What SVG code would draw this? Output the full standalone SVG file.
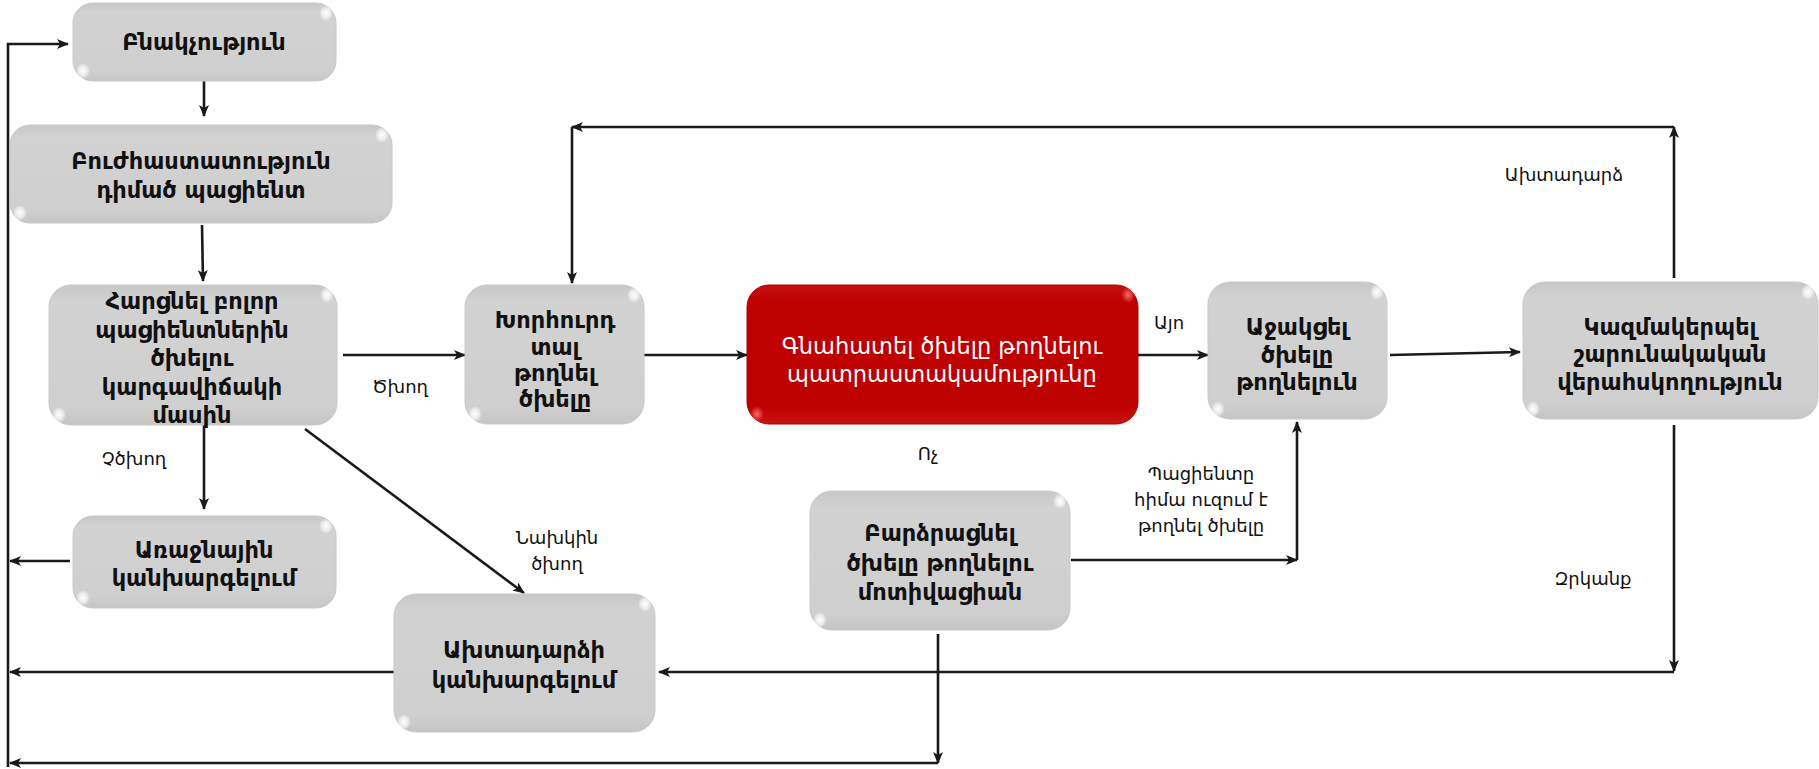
<svg xmlns="http://www.w3.org/2000/svg" width="1819" height="769" viewBox="0 0 1819 769">
<style>
.box{fill:url(#g);stroke:#c9c8c9;stroke-width:1}
.red{fill:url(#r);stroke:#b00000;stroke-width:1}
.hl{fill:url(#w)}
.hr{fill:url(#wr)}
.t{font-family:"DejaVu Sans",sans-serif;font-weight:bold;font-size:22.5px;fill:#111;text-anchor:middle;dominant-baseline:central}
.tw{font-family:"DejaVu Sans",sans-serif;font-size:22.5px;fill:#fff;text-anchor:middle;dominant-baseline:central}
.l{font-family:"DejaVu Sans",sans-serif;font-size:18px;fill:#111;text-anchor:middle;dominant-baseline:central}
.c{fill:none;stroke:#1a1a1a;stroke-width:2.6}
.a{marker-end:url(#ar)}
</style>
<defs>
<linearGradient id="g" x1="0" y1="0" x2="0" y2="1">
<stop offset="0" stop-color="#c8c7c8"/><stop offset="0.12" stop-color="#d3d2d3"/><stop offset="0.88" stop-color="#d0cfd0"/><stop offset="1" stop-color="#c6c5c6"/>
</linearGradient>
<linearGradient id="r" x1="0" y1="0" x2="0" y2="1">
<stop offset="0" stop-color="#c41010"/><stop offset="0.12" stop-color="#bf0000"/><stop offset="0.88" stop-color="#bd0000"/><stop offset="1" stop-color="#c81414"/>
</linearGradient>
<radialGradient id="w"><stop offset="0" stop-color="#fff"/><stop offset="0.6" stop-color="#fff" stop-opacity="0.6"/><stop offset="1" stop-color="#fff" stop-opacity="0"/></radialGradient>
<radialGradient id="wr"><stop offset="0" stop-color="#ff6a6a"/><stop offset="1" stop-color="#ff6a6a" stop-opacity="0"/></radialGradient>
<marker id="ar" markerUnits="userSpaceOnUse" markerWidth="12" markerHeight="10" refX="11" refY="5" orient="auto">
<path d="M0,0 L12,5 L0,10 L3,5 z" fill="#1a1a1a"/>
</marker>
</defs>

<g id="connectors">
<path class="c a" d="M204,81 L204,116"/>
<path class="c a" d="M202,225 L203,281"/>
<path class="c a" d="M204,425 L204,509"/>
<path class="c a" d="M70,561 L10,561"/>
<path class="c a" d="M8,767 L8,44 L68,44"/>
<path class="c a" d="M394,672 L10,672"/>
<path class="c a" d="M938,634 L938,763"/>
<path class="c a" d="M938,763 L10,763"/>
<path class="c a" d="M305,429 L524,593"/>
<path class="c a" d="M343,355 L465,355"/>
<path class="c a" d="M644,355 L747,355"/>
<path class="c a" d="M1138,355 L1208,355"/>
<path class="c a" d="M1390,355 L1520,352"/>
<path class="c a" d="M1071,560 L1297,560"/>
<path class="c a" d="M1297,560 L1297,422"/>
<path class="c a" d="M1674,278 L1674,127"/>
<path class="c a" d="M1674,127 L572,127"/>
<path class="c a" d="M572,127 L572,283"/>
<path class="c a" d="M1674,425 L1674,671"/>
<path class="c a" d="M1674,672 L659,672"/>
</g>

<g id="labels">
<text class="l" x="400" y="386">Ծխող</text>
<text class="l" x="134" y="458">Չծխող</text>
<text class="l" x="557" y="537">Նախկին</text>
<text class="l" x="557" y="563">ծխող</text>
<text class="l" x="1169" y="322">Այո</text>
<text class="l" x="928" y="453">Ոչ</text>
<text class="l" x="1201" y="473">Պացիենտը</text>
<text class="l" x="1201" y="499">հիմա ուզում է</text>
<text class="l" x="1201" y="525">թողնել ծխելը</text>
<text class="l" x="1564" y="174">Ախտադարձ</text>
<text class="l" x="1593" y="578">Զրկանք</text>
</g>

<g id="n1">
<rect class="box" x="73" y="3" width="263" height="78" rx="20"/>
<ellipse class="hl" cx="326" cy="13" rx="7" ry="8"/><ellipse class="hl" cx="83" cy="71" rx="7" ry="8"/>
<text class="t" x="204" y="42">Բնակչություն</text>
</g>
<g id="n2">
<rect class="box" x="10" y="125" width="382" height="98" rx="20"/>
<ellipse class="hl" cx="382" cy="135" rx="7" ry="8"/><ellipse class="hl" cx="20" cy="213" rx="7" ry="8"/>
<text class="t" x="201" y="161">Բուժհաստատություն</text>
<text class="t" x="201" y="190">դիմած պացիենտ</text>
</g>
<g id="n3">
<rect class="box" x="49" y="285" width="288" height="140" rx="22"/>
<ellipse class="hl" cx="327" cy="295" rx="7" ry="8"/><ellipse class="hl" cx="59" cy="415" rx="7" ry="8"/>
<text class="t" x="192" y="301">Հարցնել բոլոր</text>
<text class="t" x="192" y="330">պացիենտներին</text>
<text class="t" x="192" y="358">ծխելու</text>
<text class="t" x="192" y="387">կարգավիճակի</text>
<text class="t" x="192" y="415">մասին</text>
</g>
<g id="n4">
<rect class="box" x="73" y="516" width="263" height="92" rx="20"/>
<ellipse class="hl" cx="326" cy="526" rx="7" ry="8"/><ellipse class="hl" cx="83" cy="598" rx="7" ry="8"/>
<text class="t" x="204" y="550">Առաջնային</text>
<text class="t" x="204" y="578">կանխարգելում</text>
</g>
<g id="n5">
<rect class="box" x="394" y="594" width="261" height="138" rx="22"/>
<ellipse class="hl" cx="645" cy="604" rx="7" ry="8"/><ellipse class="hl" cx="404" cy="722" rx="7" ry="8"/>
<text class="t" x="524" y="650">Ախտադարձի</text>
<text class="t" x="524" y="680">կանխարգելում</text>
</g>
<g id="n6">
<rect class="box" x="465" y="285" width="179" height="139" rx="22"/>
<ellipse class="hl" cx="634" cy="295" rx="7" ry="8"/><ellipse class="hl" cx="475" cy="414" rx="7" ry="8"/>
<text class="t" x="555" y="320">Խորհուրդ</text>
<text class="t" x="555" y="347">տալ</text>
<text class="t" x="555" y="373">թողնել</text>
<text class="t" x="555" y="399">ծխելը</text>
</g>
<g id="n7">
<rect class="red" x="747" y="285" width="391" height="139" rx="22"/>
<ellipse class="hr" cx="1128" cy="295" rx="7" ry="8"/><ellipse class="hr" cx="757" cy="414" rx="7" ry="8"/>
<text class="tw" x="942" y="346">Գնահատել ծխելը թողնելու</text>
<text class="tw" x="942" y="374">պատրաստակամությունը</text>
</g>
<g id="n8">
<rect class="box" x="1208" y="282" width="179" height="137" rx="22"/>
<ellipse class="hl" cx="1377" cy="292" rx="7" ry="8"/><ellipse class="hl" cx="1218" cy="409" rx="7" ry="8"/>
<text class="t" x="1297" y="327">Աջակցել</text>
<text class="t" x="1297" y="355">ծխելը</text>
<text class="t" x="1297" y="382">թողնելուն</text>
</g>
<g id="n9">
<rect class="box" x="1523" y="282" width="295" height="137" rx="22"/>
<ellipse class="hl" cx="1808" cy="292" rx="7" ry="8"/><ellipse class="hl" cx="1533" cy="409" rx="7" ry="8"/>
<text class="t" x="1670" y="327">Կազմակերպել</text>
<text class="t" x="1670" y="354">շարունակական</text>
<text class="t" x="1670" y="382">վերահսկողություն</text>
</g>
<g id="n10">
<rect class="box" x="810" y="491" width="260" height="139" rx="22"/>
<ellipse class="hl" cx="1060" cy="501" rx="7" ry="8"/><ellipse class="hl" cx="820" cy="620" rx="7" ry="8"/>
<text class="t" x="940" y="533">Բարձրացնել</text>
<text class="t" x="940" y="563">ծխելը թողնելու</text>
<text class="t" x="940" y="592">մոտիվացիան</text>
</g>
</svg>
